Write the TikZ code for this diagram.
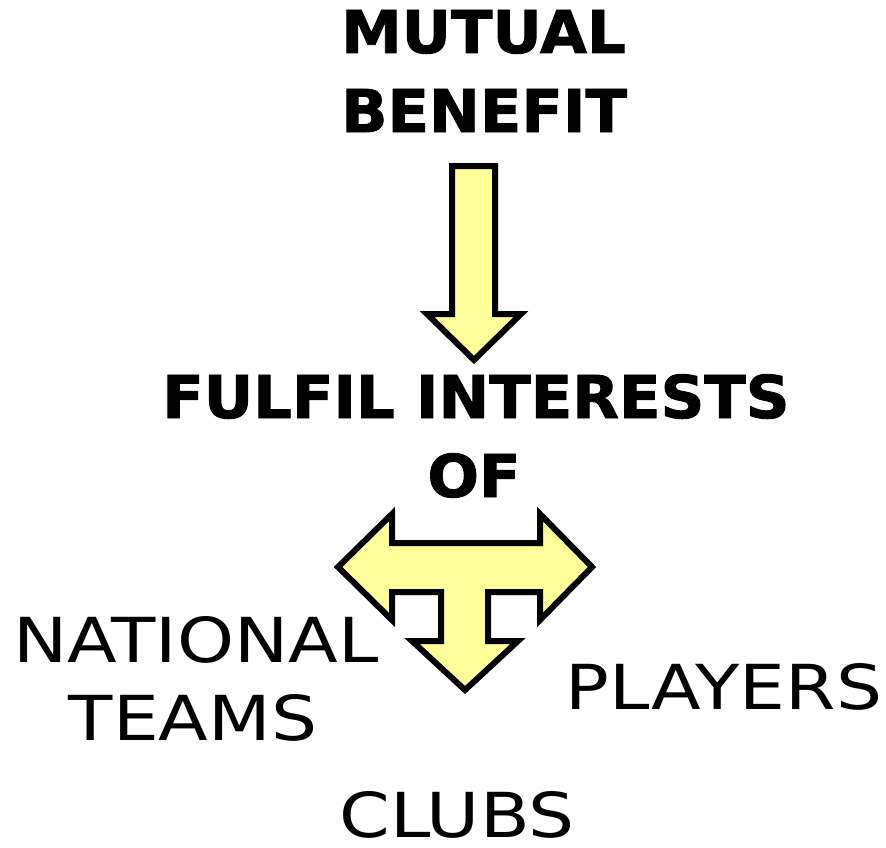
\documentclass[tikz,border=0pt]{standalone}
\usepackage{fontspec}
\newfontfamily\heavyfont{DejaVu Sans Bold}[FakeStretch=1.03, FakeBold=1.5]
\newfontfamily\plainfont{DejaVu Sans}[FakeStretch=1.17]
\definecolor{paleyellow}{HTML}{FFFF99}

\begin{document}
\begin{tikzpicture}[x=1pt,y=-1pt] \tikzset{blockarrow/.style={draw=black, fill=paleyellow, line width=6pt, line join=miter}, bigtitle/.style={inner sep=0pt, font=\heavyfont\fontsize{59}{59}\selectfont}, partner/.style={inner sep=0pt, anchor=base, font=\plainfont\fontsize{62}{62}\selectfont}}
\useasboundingbox (0,0) rectangle (886,848);
\node (mutual) at (341,53) [bigtitle, anchor=base west] {MUTUAL};
\node (benefit) at (341,132) [bigtitle, anchor=base west] {BENEFIT};
\draw [blockarrow] (452,166) -- (495,166) -- (495,314) -- (521,314) -- (474,360) -- (427,314) -- (452,314) -- cycle;
\node (fulfil) at (476,418) [bigtitle, anchor=base] {FULFIL INTERESTS};
\node (of) at (474,497) [bigtitle, anchor=base] {OF};
\draw [blockarrow] (338,567) -- (392,514) -- (392,543) -- (540,543) -- (540,514) -- (592,567) -- (540,620) -- (540,592) -- (488,592) -- (488,641) -- (518,641) -- (465,690) -- (412,641) -- (441,641) -- (441,592) -- (392,592) -- (392,620) -- cycle;
\node (national) at (196,662) [partner] {NATIONAL};
\node (teams) at (193,740) [partner] {TEAMS};
\node (players) at (724,709) [partner] {PLAYERS};
\node (clubs) at (457,837) [partner] {CLUBS};
\end{tikzpicture}
\end{document}
